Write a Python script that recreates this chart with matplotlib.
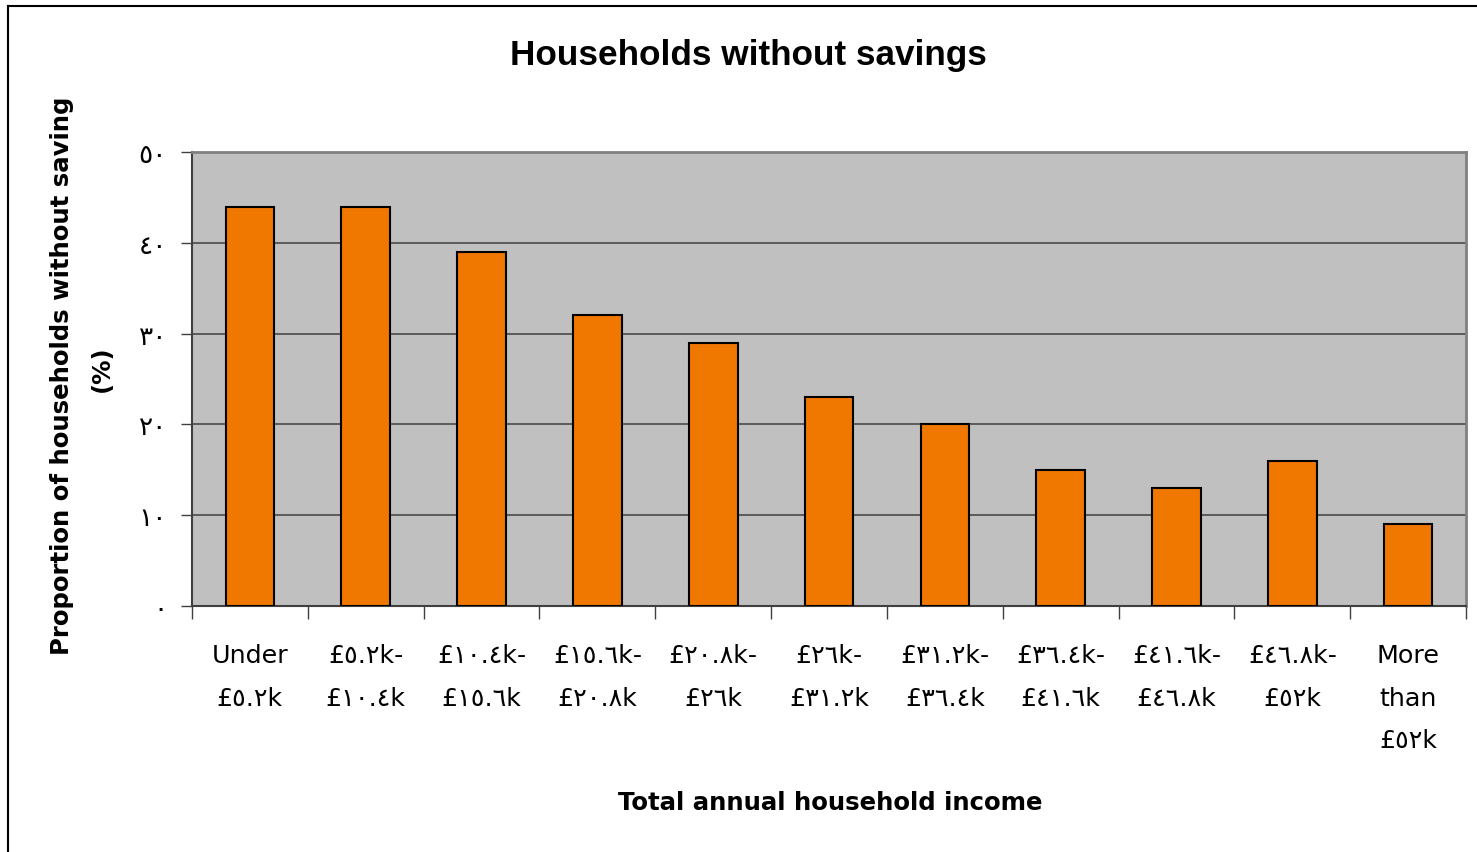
import numpy as np
import matplotlib
matplotlib.use("Agg")
import matplotlib.pyplot as plt
from matplotlib.lines import Line2D
from matplotlib.transforms import Bbox, TransformedBbox

# data
categories = ["Under\n£٥.٢k", "£٥.٢k-\n£١٠.٤k", "£١٠.٤k-\n£١٥.٦k", "£١٥.٦k-\n£٢٠.٨k",
              "£٢٠.٨k-\n£٢٦k", "£٢٦k-\n£٣١.٢k", "£٣١.٢k-\n£٣٦.٤k", "£٣٦.٤k-\n£٤١.٦k",
              "£٤١.٦k-\n£٤٦.٨k", "£٤٦.٨k-\n£٥٢k", "More\nthan\n£٥٢k"]
values = [44, 44, 39, 32, 29, 23, 20, 15, 13, 16, 9]
yticks = [0, 10, 20, 30, 40, 50]
ytick_labels = ["٠", "١٠", "٢٠", "٣٠", "٤٠", "٥٠"]

plt.rcParams['font.family'] = ['DejaVu Sans']

fig = plt.figure(figsize=(14.77, 8.53), dpi=100)
ax = fig.add_axes([0.130, 0.2884, 0.8626, 0.5322])
ax.set_facecolor('#C0C0C0')

x = np.arange(len(values))
ax.bar(x, values, width=0.42, color='#F07800', edgecolor='black', linewidth=1.5, zorder=3)

ax.set_xlim(-0.5, len(values) - 0.5)
ax.set_ylim(0, 50)

# gridlines
for v in yticks[1:-1]:
    ax.axhline(v, color='#4a4a4a', lw=1.2, zorder=1)

ax.set_yticks(yticks)
ax.set_yticklabels(ytick_labels, fontsize=19)
ax.tick_params(axis='y', length=8, width=1, color='#404040', pad=10)

ax.set_xticks(x)
ax.set_xticklabels(categories, fontsize=18.3, va='top', linespacing=1.95)
ax.tick_params(axis='x', which='major', length=0, pad=27)
ax.set_xticks(np.arange(len(values) + 1) - 0.5, minor=True)
ax.tick_params(axis='x', which='minor', length=9, width=1, color='#404040')

for s in ['left', 'bottom']:
    ax.spines[s].set_color('#404040')
    ax.spines[s].set_linewidth(1.5)
for s in ['top', 'right']:
    ax.spines[s].set_color('#808080')
    ax.spines[s].set_linewidth(2)

fig.text(0.5064, 0.9355, "Households without savings", family='Liberation Sans',
         fontweight='bold', fontsize=25.3, ha='center', va='center')
fig.text(0.562, 0.0586, "Total annual household income", fontweight='bold',
         fontsize=17.6, ha='center', va='center')

yl = fig.text(0.0555, 1 - 655 / 853, "Proportion of households without savings\n(%)",
              fontweight='bold', fontsize=17.6, rotation=90, ha='center', va='bottom',
              multialignment='center', linespacing=1.85)
yl.set_clip_box(TransformedBbox(Bbox([[0, 0], [1, 1 - 99 / 853]]), fig.transFigure))
yl.set_clip_on(True)

# outer chart border (left and top)
fig.add_artist(Line2D([8 / 1477, 8 / 1477], [0, 1 - 7 / 853], transform=fig.transFigure,
                      color='black', lw=1.5))
fig.add_artist(Line2D([8 / 1477, 1], [1 - 7 / 853, 1 - 7 / 853], transform=fig.transFigure,
                      color='black', lw=1.5))

fig.savefig("out.png", dpi=100)
